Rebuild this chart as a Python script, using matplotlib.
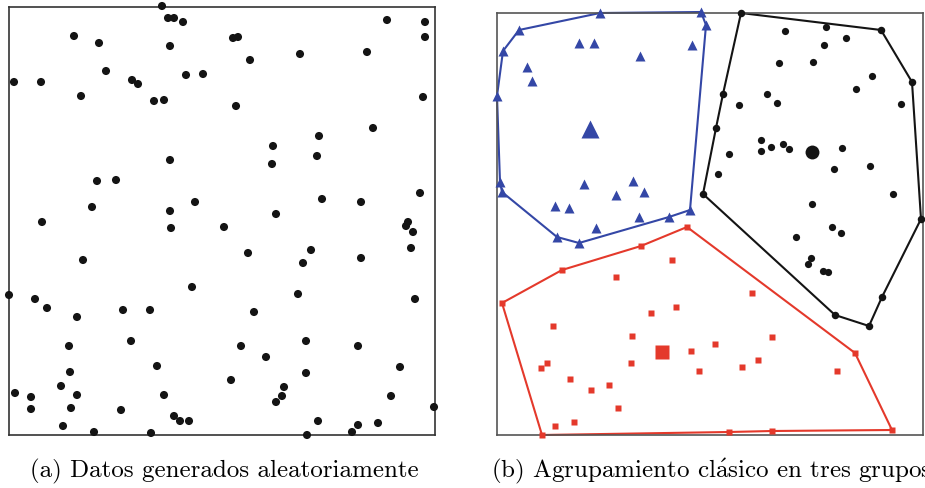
import matplotlib
matplotlib.use("Agg")
import matplotlib.pyplot as plt

plt.rcParams['mathtext.fontset'] = 'cm'
plt.rcParams['axes.unicode_minus'] = False

# ---------------- Panel (a): random data ----------------
rand_x = [153, 159, 165, 174, 65, 90, 161, 97, 5, 32, 123, 129, 177, 194, 72, 145, 155,
          161, 88, 107, 186, 83, 161, 33, 162, 215,
          378, 416, 416, 224, 229, 241, 291, 358, 414, 227, 364, 310, 264, 263, 308,
          411, 313, 352, 267,
          399, 397, 404, 402, 239, 302, 294, 352, 289, 406, 245, 232, 297, 349, 257,
          391, 297, 222, 275, 273, 267, 382, 425, 309, 349, 343, 369, 298,
          74, 183, 0, 26, 38, 68, 114, 141, 122, 60, 148, 61, 52, 6, 22, 68, 155,
          22, 62, 112, 165, 171, 180, 54, 85, 142]
rand_y = [429, 417, 417, 413, 399, 392, 389, 364, 353, 353, 355, 351, 360, 361, 339, 334, 335,
          275, 254, 255, 233, 228, 224, 213, 207, 208,
          415, 413, 398, 397, 398, 375, 381, 383, 338, 329, 307, 299, 289, 271, 279,
          242, 236, 233, 221,
          213, 209, 203, 187, 182, 185, 172, 177, 141, 136, 123, 89, 94, 89, 78,
          68, 62, 55, 48, 39, 33, 39, 28, 14, 10, 3, 12, 0,
          175, 148, 140, 136, 127, 118, 125, 125, 94, 89, 69, 63, 49, 42, 38, 40, 40,
          26, 27, 25, 19, 14, 14, 9, 3, 2]

# ---------------- Panel (b): three clusters ----------------
# Blue cluster (triangles)
blue_hull_x = [103, 204, 209, 193, 172, 82, 60, 5, 3, 0, 6, 22]
blue_hull_y = [422, 423, 410, 225, 218, 192, 198, 243, 253, 339, 384, 405]
blue_x = [82, 97, 143, 195, 30, 35, 87, 136, 119, 147, 58, 72, 142, 99]
blue_y = [392, 392, 379, 390, 368, 354, 251, 254, 240, 243, 229, 227, 218, 207]
blue_center = (93, 306)

# Black cluster (circles)
black_hull_x = [244, 384, 415, 424, 385, 372, 338, 206, 219, 226]
black_hull_y = [422, 405, 353, 216, 138, 109, 120, 241, 307, 341]
black_x = [288, 329, 349, 327, 282, 316, 375, 359, 270, 280, 242, 404, 264, 264, 274,
           286, 292, 345, 232, 337, 373, 221, 396, 315, 335, 344, 299, 314, 311, 326, 331]
black_y = [404, 408, 397, 390, 372, 373, 359, 346, 341, 332, 330, 331, 295, 284, 288,
           291, 286, 287, 281, 266, 269, 261, 241, 231, 208, 202, 198, 177, 171, 164, 163]
black_center = (315, 283)

# Red cluster (squares)
red_hull_x = [190, 358, 395, 275, 232, 45, 5, 65, 144]
red_hull_y = [208, 82, 5, 4, 3, 0, 132, 165, 189]
red_x = [175, 119, 154, 179, 56, 135, 194, 218, 202, 44, 50, 134, 73, 94, 112, 121,
         58, 77, 255, 275, 261, 245, 340]
red_y = [175, 158, 122, 128, 109, 99, 84, 91, 64, 67, 72, 72, 56, 45, 50, 27,
         9, 13, 142, 98, 75, 68, 64]
red_center = (165, 83)

captions = ['(a) Datos generados aleatoriamente',
            r'(b) Agrupamiento cl$\acute{\mathrm{a}}$sico en tres grupos']

BLUE = '#3447a6'
RED = '#e4392b'
BLACK = '#141414'

fig = plt.figure(figsize=(9.25, 4.89), dpi=100)
axA = fig.add_axes([9 / 925, 53 / 489, 426 / 925, 428 / 489])
axB = fig.add_axes([497 / 925, 53 / 489, 426 / 925, 422 / 489])

axA.scatter(rand_x, rand_y, s=34, color=BLACK, edgecolors='none', clip_on=False, zorder=3)
axA.set_xlim(0, 426)
axA.set_ylim(0, 428)


def closed(seq):
    return list(seq) + [seq[0]]


# blue
axB.plot(closed(blue_hull_x), closed(blue_hull_y), color=BLUE, lw=1.5, clip_on=False, zorder=2)
axB.plot(blue_hull_x, blue_hull_y, ls='none', marker='^', ms=7, color=BLUE, mec='none',
         clip_on=False, zorder=3)
axB.plot(blue_x, blue_y, ls='none', marker='^', ms=7.2, color=BLUE, mec='none', clip_on=False, zorder=3)
axB.plot([blue_center[0]], [blue_center[1]], ls='none', marker='^', ms=13, color=BLUE, mec='none', zorder=3)

# black
axB.plot(closed(black_hull_x), closed(black_hull_y), color=BLACK, lw=1.5, clip_on=False, zorder=2)
axB.plot(black_hull_x, black_hull_y, ls='none', marker='o', ms=5.4, color=BLACK, mec='none',
         clip_on=False, zorder=3)
axB.plot(black_x, black_y, ls='none', marker='o', ms=5.2, color=BLACK, mec='none', clip_on=False, zorder=3)
axB.plot([black_center[0]], [black_center[1]], ls='none', marker='o', ms=10, color=BLACK, mec='none', zorder=3)

# red
axB.plot(closed(red_hull_x), closed(red_hull_y), color=RED, lw=1.5, clip_on=False, zorder=2)
axB.plot(red_hull_x, red_hull_y, ls='none', marker='s', ms=5, color=RED, mec='none',
         clip_on=False, zorder=3)
axB.plot(red_x, red_y, ls='none', marker='s', ms=5, color=RED, mec='none', clip_on=False, zorder=3)
axB.plot([red_center[0]], [red_center[1]], ls='none', marker='s', ms=9.5, color=RED, mec='none', zorder=3)

axB.set_xlim(0, 426)
axB.set_ylim(0, 422)

for ax, ec in ((axA, '#333333'), (axB, '#555555')):
    ax.set_xticks([])
    ax.set_yticks([])
    for sp in ax.spines.values():
        sp.set_color(ec)
        sp.set_linewidth(1.2)

fig.text(224 / 925, 1 - 471 / 489, captions[0], family='cmr10', fontsize=18,
         ha='center', va='center')
fig.text(711 / 925, 1 - 471 / 489, captions[1], family='cmr10', fontsize=18,
         ha='center', va='center')

fig.savefig('out.png', dpi=100)
